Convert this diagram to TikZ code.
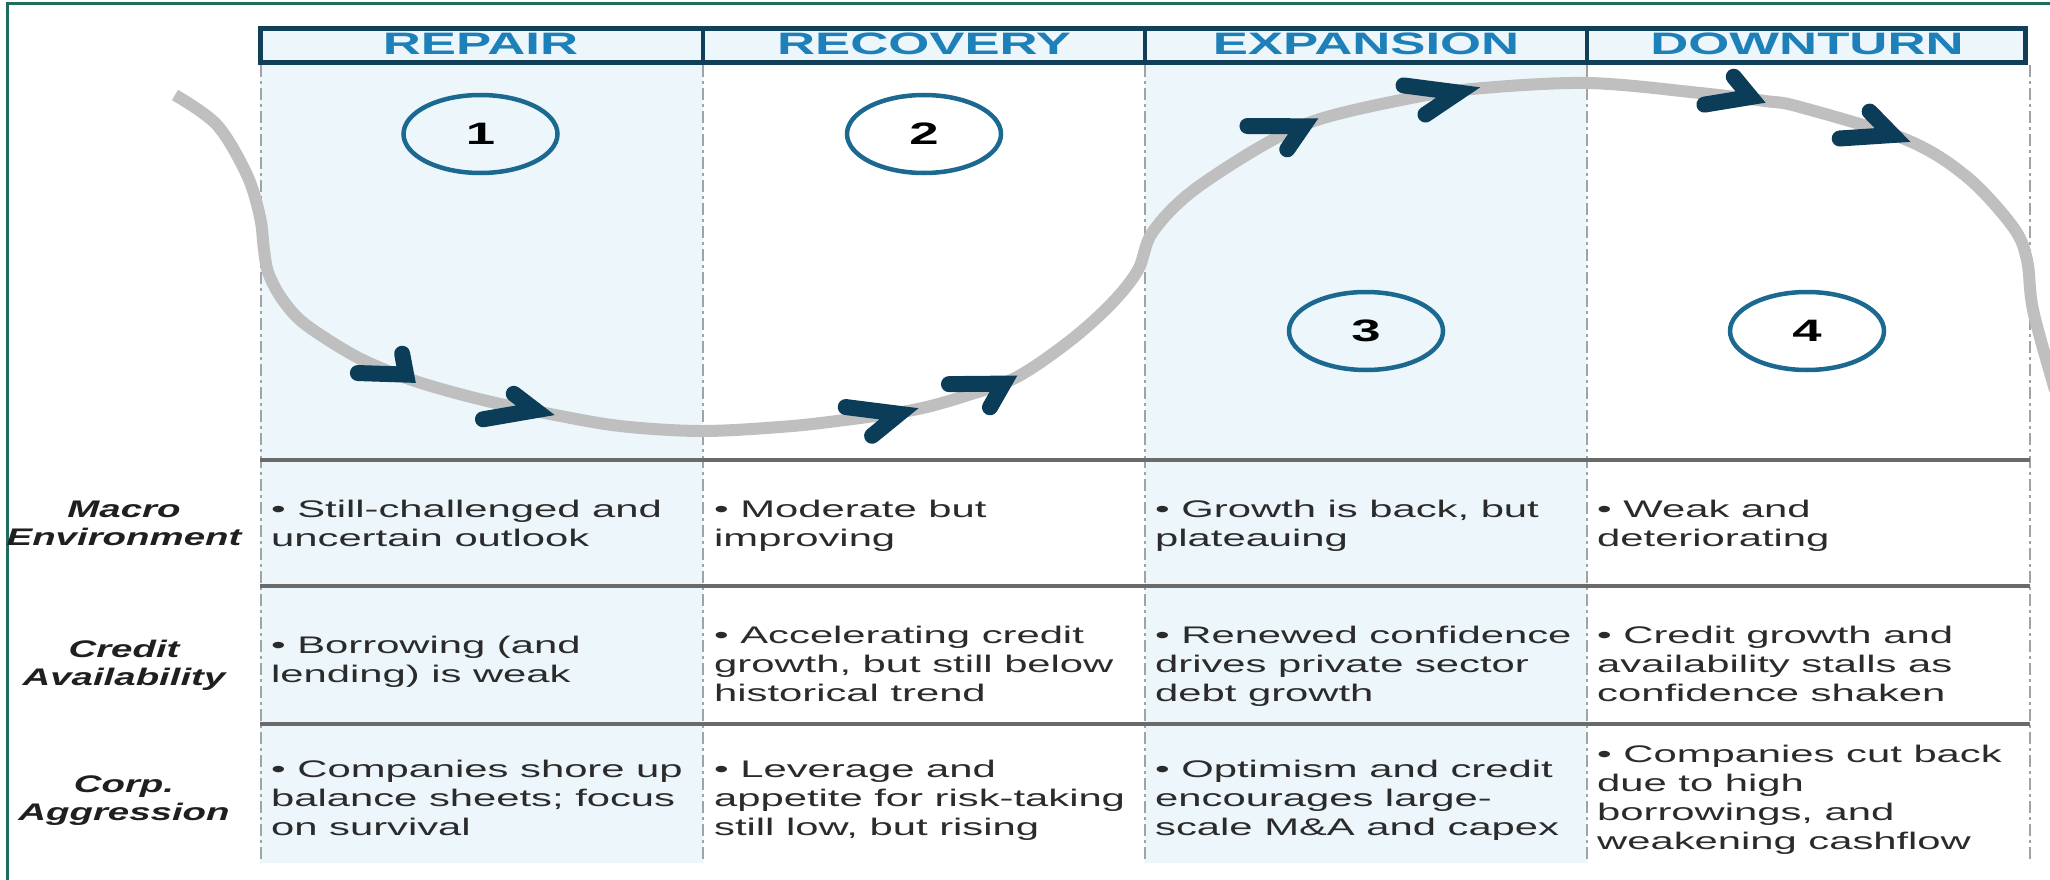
\documentclass[tikz,border=0pt]{standalone}
\usepackage{fontspec}
\setmainfont{Liberation Sans}[FakeStretch=1.74]
\newfontfamily\hdrfont{Liberation Sans}[FakeStretch=1.70]
\newfontfamily\lblfont{Liberation Sans}[FakeStretch=1.60]
\usetikzlibrary{shapes.geometric,calc}
\definecolor{frameg}{HTML}{1F6E5C}
\definecolor{hdrnavy}{HTML}{123F58}
\definecolor{hdrblue}{HTML}{1E80B8}
\definecolor{shadec}{HTML}{EDF6FA}
\definecolor{ringc}{HTML}{1B6891}
\definecolor{chevc}{HTML}{0C3D58}
\definecolor{trackc}{HTML}{BFBFBF}
\definecolor{rulec}{HTML}{6A6A6A}
\definecolor{dashc}{HTML}{A3A3A3}
\definecolor{bodyt}{HTML}{2B2B2B}
\newcommand{\chevr}[3]{%
  \path ($(#1)!10pt!(#2)$) coordinate (cpa) ($(#1)!10pt!(#3)$) coordinate (cpb);
  \path ($(cpa)!0.5!(cpb)$) coordinate (cpm);
  \draw[chevline] ($(#2)!8pt!(#1)$) -- ($(#1)!15pt!(cpm)$) -- ($(#3)!8pt!(#1)$);
}
\begin{document}
\begin{tikzpicture}[x=1pt,y=-1pt,
  txtcell/.style={anchor=north west, align=left, inner sep=0pt, text=bodyt,
    font=\fontsize{24}{29}\selectfont},
  lbl/.style={anchor=north, align=center, inner sep=0pt, text=black!88,
    font=\lblfont\bfseries\itshape\fontsize{24}{28}\selectfont},
  hdr/.style={inner sep=0pt, text=hdrblue, font=\hdrfont\bfseries\fontsize{31}{31}\selectfont},
  ringnode/.style={ellipse, draw=ringc, line width=4.5pt, minimum width=154pt,
    minimum height=78pt, inner sep=0pt, text=black,
    font=\hdrfont\bfseries\fontsize{31}{31}\selectfont},
  chevline/.style={draw=chevc, line width=16pt, line cap=round, line join=miter},
  trackline/.style={draw=trackc, line width=12pt},
  dashline/.style={draw=dashc, line width=2pt, dash pattern=on 12pt off 4pt on 3pt off 4pt},
  ruleline/.style={draw=rulec, line width=4pt},
]
\useasboundingbox (0,0) rectangle (2050,880);
\fill[white] (0,0) rectangle (2050,880);
% outer frame (top and left)
\draw[frameg, line width=3pt] (7,880) -- (7,4) -- (2050,4);
% shaded columns
\fill[shadec] (260,65) rectangle (703,863);
\fill[shadec] (1145,65) rectangle (1587,863);
% dashed column lines
\foreach \xx in {261,703,1145,1587,2030}
  \draw[dashline] (\xx,65) -- (\xx,863);
% row rules
\foreach \yy in {460,586,724}
  \draw[ruleline] (260,\yy) -- (2030,\yy);
% header
\fill[shadec] (260,28) rectangle (2026,63);
\draw[hdrnavy, line width=5pt] (260.5,28.5) rectangle (2025.5,62.5);
\foreach \xx in {703,1145,1587}
  \draw[hdrnavy, line width=4.5pt] (\xx,28.5) -- (\xx,62.5);
\node[hdr] (h1) at (480.5,44) {REPAIR};
\node[hdr] (h2) at (924,44) {RECOVERY};
\node[hdr] (h3) at (1366,44) {EXPANSION};
\node[hdr] (h4) at (1807,44) {DOWNTURN};
% cycle track
\draw[trackline] plot[smooth, tension=0.55] coordinates {(175,95) (217,125) (247,175) (260,217) (264,250) (268,272) (280,296) (300,320) (333,343) (367,362) (418,382) (483,400) (550,414) (620,426) (700,431) (780,427) (837,421) (913,410) (965,396) (1017,377) (1071,340) (1112,303) (1138,270) (1152,233) (1190,193) (1260,147) (1317,120) (1401,100) (1472,89) (1587,83) (1700,93) (1765,101) (1800,107) (1907,140) (1967,177) (2013,227) (2027,260) (2033,310) (2055,390)};
% chevrons
\chevr{418.3,383.3}{398.3,346.7}{350,371.7}
\chevr{550,413.3}{506.7,390}{475,420}
\chevr{913.5,410}{837.7,406.7}{865.3,440}
\chevr{1016.8,376.7}{941,385}{984.7,413.3}
\chevr{1316.7,120}{1239.5,126.7}{1281.6,155}
\chevr{1472.8,89.3}{1395.6,85}{1418.4,118.3}
\chevr{1764.8,101.7}{1727.5,71.7}{1696.4,105}
\chevr{1906.7,140}{1863.3,106.7}{1831.7,138.3}
% phase numbers
\node[ringnode] (n1) at (480.5,134) {1};
\node[ringnode] (n2) at (924,134) {2};
\node[ringnode] (n3) at (1366,331) {3};
\node[ringnode] (n4) at (1807,331) {4};
% row labels
\node[lbl] (l1) at (124,501) {Macro\\Environment};
\node[lbl] (l2) at (124,640) {Credit\\Availability};
\node[lbl] (l3) at (124,776) {Corp.\\Aggression};
% row 1
\node[txtcell] (a1) at (271,500) {• Still-challenged and\\uncertain outlook};
\node[txtcell] (a2) at (714,500) {• Moderate but\\improving};
\node[txtcell] (a3) at (1155,500) {• Growth is back, but\\plateauing};
\node[txtcell] (a4) at (1597,500) {• Weak and\\deteriorating};
% row 2
\node[txtcell] (b1) at (271,636) {• Borrowing (and\\lending) is weak};
\node[txtcell] (b2) at (714,626) {• Accelerating credit\\growth, but still below\\historical trend};
\node[txtcell] (b3) at (1155,626) {• Renewed confidence\\drives private sector\\debt growth};
\node[txtcell] (b4) at (1597,626) {• Credit growth and\\availability stalls as\\confidence shaken};
% row 3
\node[txtcell] (c1) at (271,760) {• Companies shore up\\balance sheets; focus\\on survival};
\node[txtcell] (c2) at (714,760) {• Leverage and\\appetite for risk-taking\\still low, but rising};
\node[txtcell] (c3) at (1155,760) {• Optimism and credit\\encourages large-\\scale M\&A and capex};
\node[txtcell] (c4) at (1597,745) {• Companies cut back\\due to high\\borrowings, and\\weakening cashflow};
\end{tikzpicture}
\end{document}
